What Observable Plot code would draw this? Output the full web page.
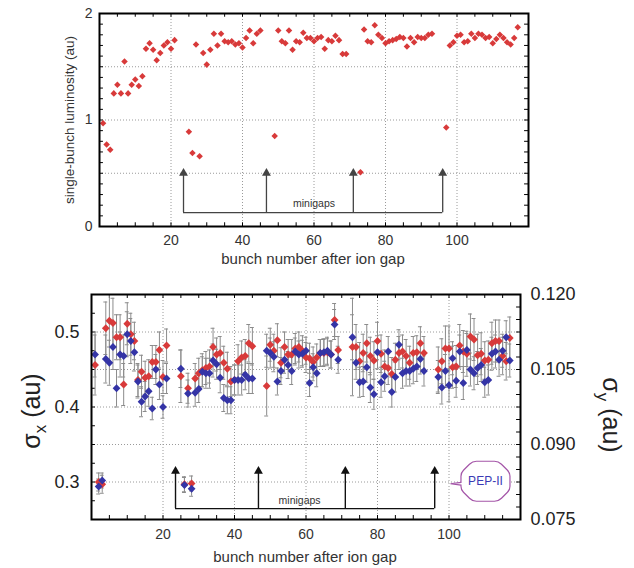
<!DOCTYPE html>
<html><head><meta charset="utf-8">
<script src="https://cdn.jsdelivr.net/npm/d3@7"></script>
<script src="https://cdn.jsdelivr.net/npm/@observablehq/plot@0.6"></script>
<style>
body{margin:0;background:#fff;}
#wrap{width:634px;height:568px;position:relative;overflow:hidden;background:#fff}
#wrap svg{display:block}
</style></head><body><div id="wrap"></div>
<script>
// ---------- data ----------
const bunch = [1,2,3,4,5,6,7,8,9,10,11,12,13,14,15,16,17,18,19,20,21,
  25,26,27,28,29,30,31,32,33,34,35,36,37,38,39,40,41,42,43,44,45,
  49,50,51,52,53,54,55,56,57,58,59,60,61,62,63,64,65,66,67,68,69,
  73,74,75,76,77,78,79,80,81,82,83,84,85,86,87,88,89,90,91,92,93,
  97,98,99,100,101,102,103,104,105,106,107,108,109,110,111,112,113,114,115,116,117];

const luminosity = [0.97,0.77,0.72,1.25,1.33,1.25,1.55,1.25,1.33,1.38,1.32,1.41,1.67,1.72,1.66,1.56,1.63,1.70,1.73,1.67,1.75,
  0.89,0.69,1.71,0.66,1.63,1.52,1.66,1.81,1.70,1.81,1.74,1.73,1.74,1.71,1.72,1.68,1.77,1.84,1.72,1.81,1.84,
  0.85,1.84,1.74,1.72,1.84,1.66,1.74,1.73,1.82,1.77,1.77,1.74,1.77,1.78,1.67,1.75,1.74,1.79,1.75,1.62,1.62,
  0.51,1.85,1.74,1.73,1.89,1.80,1.77,1.72,1.74,1.75,1.76,1.78,1.77,1.69,1.77,1.73,1.78,1.77,1.77,1.80,1.81,
  0.93,1.70,1.73,1.79,1.80,1.73,1.74,1.81,1.77,1.81,1.80,1.77,1.78,1.72,1.76,1.80,1.77,1.73,1.71,1.77,1.87];

// red series, read against the left (sigma_x) axis
const sigmaRed = [0.456,0.300,0.297,0.505,0.515,0.512,0.493,0.493,0.430,0.511,0.497,0.488,0.436,0.447,0.439,0.441,0.460,0.460,0.476,0.440,0.482,
  0.441,0.297,0.425,0.298,0.438,0.445,0.449,0.452,0.454,0.480,0.470,0.472,0.459,0.451,0.434,0.436,0.461,0.466,0.468,0.485,0.481,
  0.428,0.483,0.475,0.489,0.459,0.480,0.470,0.470,0.478,0.480,0.475,0.466,0.465,0.460,0.466,0.472,0.472,0.473,0.470,0.516,0.476,
  0.480,0.480,0.461,0.472,0.485,0.468,0.462,0.488,0.471,0.454,0.452,0.444,0.463,0.472,0.474,0.468,0.459,0.472,0.473,0.485,0.472,
  0.450,0.461,0.478,0.478,0.453,0.454,0.482,0.474,0.471,0.494,0.490,0.469,0.471,0.462,0.463,0.485,0.488,0.488,0.468,0.461,0.492];
const errRed = [0.040,0.012,0.012,0.035,0.035,0.033,0.030,0.030,0.028,0.028,0.028,0.025,0.022,0.022,0.022,0.022,0.022,0.022,0.024,0.022,0.022,
  0.035,0.010,0.020,0.010,0.020,0.020,0.022,0.022,0.022,0.025,0.022,0.022,0.022,0.022,0.020,0.020,0.022,0.022,0.022,0.025,0.025,
  0.040,0.022,0.022,0.022,0.020,0.020,0.020,0.020,0.020,0.020,0.020,0.020,0.020,0.020,0.018,0.018,0.018,0.018,0.018,0.022,0.018,
  0.065,0.030,0.025,0.025,0.025,0.025,0.025,0.025,0.025,0.022,0.022,0.022,0.022,0.022,0.022,0.022,0.022,0.022,0.022,0.022,0.022,
  0.030,0.030,0.030,0.030,0.028,0.028,0.028,0.028,0.030,0.030,0.028,0.028,0.028,0.025,0.025,0.028,0.028,0.028,0.025,0.025,0.028];

// blue series, read against the same left-axis positions
const sigmaBlue = [0.470,0.294,0.302,0.464,0.459,0.480,0.425,0.470,0.468,0.497,0.488,0.473,0.434,0.407,0.414,0.421,0.398,0.450,0.430,0.400,0.438,
  0.451,0.296,0.418,0.291,0.419,0.424,0.447,0.445,0.445,0.462,0.457,0.439,0.412,0.409,0.409,0.436,0.436,0.436,0.443,0.438,0.438,
  0.475,0.472,0.467,0.434,0.448,0.463,0.456,0.448,0.474,0.470,0.471,0.475,0.432,0.453,0.445,0.472,0.473,0.475,0.470,0.510,0.463,
  0.493,0.459,0.433,0.434,0.453,0.426,0.417,0.473,0.433,0.441,0.474,0.420,0.440,0.483,0.445,0.448,0.448,0.451,0.454,0.464,0.448,
  0.440,0.426,0.448,0.429,0.465,0.435,0.474,0.432,0.476,0.450,0.445,0.452,0.456,0.433,0.436,0.471,0.474,0.463,0.475,0.493,0.462];
const errBlue = [0.030,0.010,0.010,0.032,0.030,0.030,0.025,0.030,0.028,0.030,0.030,0.025,0.022,0.020,0.020,0.020,0.015,0.020,0.020,0.015,0.020,
  0.025,0.010,0.018,0.010,0.018,0.018,0.020,0.020,0.020,0.022,0.020,0.020,0.018,0.018,0.018,0.020,0.020,0.020,0.020,0.020,0.020,
  0.022,0.020,0.020,0.018,0.018,0.018,0.018,0.018,0.018,0.018,0.018,0.018,0.018,0.018,0.018,0.018,0.018,0.018,0.018,0.020,0.018,
  0.030,0.022,0.020,0.020,0.020,0.020,0.020,0.022,0.020,0.020,0.020,0.020,0.020,0.020,0.020,0.020,0.020,0.020,0.020,0.020,0.020,
  0.022,0.022,0.022,0.022,0.022,0.022,0.022,0.022,0.022,0.022,0.022,0.022,0.022,0.020,0.020,0.022,0.022,0.022,0.022,0.022,0.022];

const minigaps = [23.5, 46.7, 71, 96];
const xTicks = [20, 40, 60, 80, 100];
const lumTicks = [0, 1, 2];
const sigmaXTicks = [0.3, 0.4, 0.5];
const sigmaYTicks = [0.075, 0.090, 0.105, 0.120];

// ---------- styles ----------
const FONT = "Liberation Sans, DejaVu Sans, sans-serif";
const RED = "#d83a3a", BLUE = "#3434a6", INK = "#333";
const gridStyle = {stroke: "#9a9a9a", strokeOpacity: 1, strokeDasharray: "1,2", strokeWidth: 1};
const diamond = {symbol: "square", rotate: 45};

// sigma_y axis shares the plot area: 0.075..0.120 <-> 0.25..0.55
const yDomainX = [0.25, 0.55], yDomainY = [0.075, 0.120];
const toLeft = v => yDomainX[0] + (v - yDomainY[0]) / (yDomainY[1] - yDomainY[0]) * (yDomainX[1] - yDomainX[0]);
const toRight = v => yDomainY[0] + (v - yDomainX[0]) / (yDomainX[1] - yDomainX[0]) * (yDomainY[1] - yDomainY[0]);

const minorX = d3.range(0, 121, 5);

// ---------- top panel ----------
const topPlot = Plot.plot({
  width: 634, height: 280,
  marginLeft: 99, marginRight: 106, marginTop: 13, marginBottom: 54,
  x: {domain: [0, 120]},
  y: {domain: [0, 2]},
  style: {fontFamily: FONT, color: INK, background: "#fff", overflow: "visible"},
  marks: [
    Plot.gridX(xTicks, gridStyle),
    Plot.gridY([0.5, 1, 1.5], gridStyle),
    Plot.ruleX(minorX, {x: d => d, y1: 0, y2: 0.035, stroke: "#000"}),
    Plot.ruleX(minorX, {x: d => d, y1: 2, y2: 1.965, stroke: "#000"}),
    Plot.ruleY(d3.range(0, 2.01, 0.1), {y: d => d, x1: 0, x2: 1.1, stroke: "#000"}),
    Plot.ruleY(d3.range(0, 2.01, 0.1), {y: d => d, x1: 120, x2: 118.9, stroke: "#000"}),
    Plot.axisX(xTicks, {tickSize: 0, tickPadding: 9, fontSize: 14, label: null, fill: INK, tickFormat: d3.format("d")}),
    Plot.axisY(lumTicks, {tickSize: 0, tickPadding: 7, fontSize: 14, label: null, fill: INK, tickFormat: d3.format("d")}),
    Plot.ruleY([0.13], {x1: d3.min(minigaps), x2: d3.max(minigaps), stroke: "#444", strokeWidth: 1.3}),
    Plot.ruleX(minigaps, {x: d => d, y1: 0.13, y2: 0.5, stroke: "#444", strokeWidth: 1.3}),
    Plot.dot(minigaps, {x: d => d, y: 0.5, symbol: "triangle", r: 3.3, fill: "#444", stroke: "none"}),
    Plot.text(["minigaps"], {x: 60, y: 0.215, fontSize: 10.5, fill: INK}),
    Plot.dot(bunch, {x: d => d, y: (d, i) => luminosity[i], ...diamond, r: 2.6, fill: RED, stroke: "none"}),
    Plot.frame({stroke: "#000", strokeWidth: 2})
  ]
});

// ---------- bottom panel ----------
const pepSymbol = {draw(ctx) {
  ctx.moveTo(-9, -20); ctx.lineTo(9, -20);
  ctx.quadraticCurveTo(13, -20, 16, -17);
  ctx.lineTo(22, -11); ctx.quadraticCurveTo(24.5, -8.5, 24.5, -5);
  ctx.lineTo(24.5, 5); ctx.quadraticCurveTo(24.5, 8.5, 22, 11);
  ctx.lineTo(16, 17); ctx.quadraticCurveTo(13, 20, 9, 20);
  ctx.lineTo(-9, 20); ctx.quadraticCurveTo(-13, 20, -16, 17);
  ctx.lineTo(-22, 11); ctx.quadraticCurveTo(-24.5, 8.5, -24.5, 5);
  ctx.lineTo(-24.5, 3.8); ctx.lineTo(-35, 2.5); ctx.lineTo(-24.5, 1.2);
  ctx.lineTo(-24.5, -5); ctx.quadraticCurveTo(-24.5, -8.5, -22, -11);
  ctx.lineTo(-16, -17); ctx.quadraticCurveTo(-13, -20, -9, -20);
  ctx.closePath();
}};
const logo = [{x: 110.2, y: 0.301, label: "PEP-II"}];

const capW = 0.55;
const errorMarks = (vals, errs) => [
  Plot.ruleX(bunch, {x: d => d, y1: (d, i) => vals[i] - errs[i], y2: (d, i) => vals[i] + errs[i], stroke: "#8c8c8c", strokeWidth: 1}),
  Plot.ruleY(bunch, {y: (d, i) => vals[i] + errs[i], x1: d => d - capW, x2: d => d + capW, stroke: "#8c8c8c", strokeWidth: 1}),
  Plot.ruleY(bunch, {y: (d, i) => vals[i] - errs[i], x1: d => d - capW, x2: d => d + capW, stroke: "#8c8c8c", strokeWidth: 1})
];

const botPlot = Plot.plot({
  width: 634, height: 288,
  marginLeft: 91, marginRight: 114, marginTop: 14, marginBottom: 49,
  x: {domain: [0, 120]},
  y: {domain: yDomainX},
  style: {fontFamily: FONT, color: INK, background: "#fff", overflow: "visible"},
  marks: [
    Plot.gridX(xTicks, gridStyle),
    Plot.gridY([0.3, 0.35, 0.4, 0.45, 0.5], gridStyle),
    Plot.ruleX(minorX, {x: d => d, y1: 0.25, y2: 0.2553, stroke: "#000"}),
    Plot.ruleX(minorX, {x: d => d, y1: 0.55, y2: 0.5447, stroke: "#000"}),
    Plot.ruleY(d3.range(0.25, 0.551, 0.025), {y: d => d, x1: 0, x2: 1.1, stroke: "#000"}),
    Plot.ruleY(d3.range(0.075, 0.1201, 0.0025).map(toLeft), {y: d => d, x1: 120, x2: 118.9, stroke: "#000"}),
    Plot.axisX(xTicks, {tickSize: 0, tickPadding: 10, fontSize: 14, label: null, fill: INK, tickFormat: d3.format("d")}),
    Plot.axisY(sigmaXTicks, {anchor: "left", tickSize: 0, tickPadding: 12, fontSize: 18, label: null, fill: "#222", tickFormat: d3.format(".1f")}),
    Plot.axisY(sigmaYTicks.map(toLeft), {anchor: "right", tickSize: 0, tickPadding: 10, fontSize: 18, label: null, fill: "#222", tickFormat: d => toRight(d).toFixed(3)}),
    Plot.ruleY([0.2645], {x1: d3.min(minigaps), x2: d3.max(minigaps), stroke: "#111", strokeWidth: 1.4}),
    Plot.ruleX(minigaps, {x: d => d, y1: 0.2645, y2: 0.314, stroke: "#111", strokeWidth: 1.4}),
    Plot.dot(minigaps, {x: d => d, y: 0.3145, symbol: "triangle", r: 3.3, fill: "#111", stroke: "none"}),
    Plot.text(["minigaps"], {x: 58.2, y: 0.2756, fontSize: 10.5, fill: INK}),
    Plot.dot(logo, {x: "x", y: "y", symbol: pepSymbol, r: 5, fill: "#fff", stroke: "#a455a8", strokeWidth: 1.2}),
    Plot.text(logo, {x: "x", y: "y", text: "label", fontSize: 12, fill: "#3a3ab4"}),
    ...errorMarks(sigmaRed, errRed),
    ...errorMarks(sigmaBlue, errBlue),
    Plot.dot(bunch, {x: d => d, y: (d, i) => sigmaRed[i], ...diamond, r: 3.1, fill: RED, stroke: "none"}),
    Plot.dot(bunch, {x: d => d, y: (d, i) => sigmaBlue[i], ...diamond, r: 3.1, fill: BLUE, stroke: "none"}),
    Plot.frame({stroke: "#000", strokeWidth: 2})
  ]
});

const wrap = document.getElementById("wrap");
wrap.appendChild(topPlot);
wrap.appendChild(botPlot);

// axis titles (kept as real text)
const t = d3.select(topPlot);
t.append("text").attr("x", 313).attr("y", 264).attr("text-anchor", "middle")
  .attr("font-family", FONT).attr("font-size", 15).attr("fill", INK).text("bunch number after ion gap");
t.append("text").attr("transform", "translate(69,120) rotate(-90)").attr("text-anchor", "middle")
  .attr("dominant-baseline", "central").attr("font-family", FONT).attr("font-size", 13.5).attr("fill", INK)
  .text("single-bunch luminosity (au)");

const b = d3.select(botPlot);
b.append("text").attr("x", 305).attr("y", 282).attr("text-anchor", "middle")
  .attr("font-family", FONT).attr("font-size", 15).attr("fill", INK).text("bunch number after ion gap");
const sx = b.append("text").attr("transform", "translate(40,131) rotate(-90)").attr("text-anchor", "middle")
  .attr("font-family", FONT).attr("font-size", 25).attr("fill", "#222");
sx.append("tspan").text("σ");
sx.append("tspan").attr("font-size", 17).attr("dy", 6).text("x");
sx.append("tspan").attr("dy", -6).text(" (au)");
const sy = b.append("text").attr("transform", "translate(603,135) rotate(90)").attr("text-anchor", "middle")
  .attr("font-family", FONT).attr("font-size", 25).attr("fill", "#222");
sy.append("tspan").text("σ");
sy.append("tspan").attr("font-size", 17).attr("dy", 6).text("y");
sy.append("tspan").attr("dy", -6).text(" (au)");
</script></body></html>
